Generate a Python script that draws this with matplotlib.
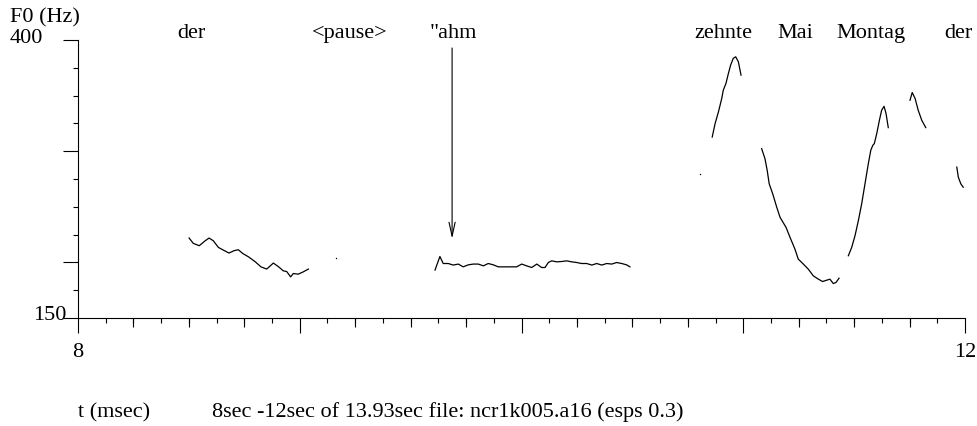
import numpy as np
import matplotlib
matplotlib.use("Agg")
import matplotlib.pyplot as plt
from matplotlib.markers import TICKDOWN

plt.rcParams['font.family'] = ['Liberation Serif', 'DejaVu Serif']
FS = 16

# F0 contour pieces (time in s, F0 in Hz)
der1_t = [8.501, 8.520, 8.547, 8.570, 8.591, 8.610, 8.633, 8.655, 8.681, 8.703,
          8.723, 8.743, 8.768, 8.798, 8.825, 8.851, 8.881, 8.903, 8.926, 8.941,
          8.959, 8.971, 8.993, 9.016, 9.039]
der1_f = [221.9, 217.1, 215.0, 218.9, 221.9, 219.5, 213.5, 211.1, 208.4, 210.5,
          211.4, 208.0, 205.1, 200.8, 196.0, 194.0, 199.4, 196.3, 192.4, 191.8,
          187.0, 190.0, 189.4, 191.5, 194.0]

ahm_t = [9.610, 9.632, 9.647, 9.670, 9.692, 9.715, 9.737, 9.760, 9.783, 9.805,
         9.828, 9.850, 9.873, 9.895, 9.933, 9.978, 10.001, 10.023, 10.046, 10.069,
         10.091, 10.106, 10.121, 10.136, 10.159, 10.181, 10.204, 10.226, 10.249, 10.271,
         10.294, 10.317, 10.339, 10.362, 10.384, 10.407, 10.429, 10.452, 10.474, 10.489]
ahm_f = [193.1, 205.3, 199.0, 199.0, 197.6, 198.5, 196.0, 197.8, 198.5, 198.5,
         196.9, 199.0, 197.8, 196.0, 196.0, 196.0, 198.5, 196.9, 195.4, 198.5,
         195.4, 195.4, 199.9, 201.4, 200.5, 200.8, 201.4, 200.5, 199.9, 199.0,
         199.0, 197.6, 199.0, 197.6, 199.0, 198.5, 199.9, 199.0, 197.8, 196.0]

zehnte_t = [10.860, 10.873, 10.888, 10.903, 10.910, 10.922, 10.933, 10.943, 10.955,
            10.966, 10.978, 10.990]
zehnte_f = [312.7, 324.8, 335.3, 347.4, 354.9, 360.9, 369.9, 377.4, 383.5,
            384.9, 380.4, 368.4]

mai_t = [11.083, 11.098, 11.108, 11.117, 11.133, 11.151, 11.166, 11.193, 11.211, 11.233,
         11.248, 11.271, 11.293, 11.316, 11.339, 11.358, 11.376, 11.391, 11.406, 11.418,
         11.432]
mai_f = [302.3, 293.2, 282.7, 270.7, 261.6, 249.6, 240.5, 231.5, 222.5, 212.0,
         203.0, 198.5, 194.0, 187.9, 184.9, 182.8, 184.0, 184.9, 181.0, 181.9,
         185.8]

montag_t = [11.474, 11.489, 11.504, 11.519, 11.534, 11.549, 11.564, 11.575, 11.584,
            11.591, 11.602, 11.614, 11.624, 11.635, 11.644, 11.654]
montag_f = [206.0, 213.5, 224.0, 237.5, 252.6, 270.7, 288.7, 300.7, 305.2,
            306.8, 315.8, 327.8, 336.8, 340.4, 333.8, 321.2]

der2_t = [11.752, 11.762, 11.775, 11.789, 11.805, 11.823]
der2_f = [345.8, 352.8, 347.4, 336.8, 327.8, 321.2]

tail_t = [11.963, 11.970, 11.981, 11.992]
tail_f = [285.7, 276.6, 270.7, 267.6]

dots_t = [9.162, 10.805]
dots_f = [203.9, 279.1]

words = ['der', '<pause>', '"ahm', 'zehnte', 'Mai', 'Montag', 'der']
word_t = [8.51, 9.227, 9.691, 10.909, 11.233, 11.576, 11.968]

arrow_t = 9.687
arrow_from = 392.8
arrow_to = 221.3

fig = plt.figure(figsize=(9.78, 4.26), dpi=100)
ax = fig.add_axes([78 / 978, 1 - 318 / 426, 887 / 978, 278 / 426])

segments = [(der1_t, der1_f), (ahm_t, ahm_f), (zehnte_t, zehnte_f),
            (mai_t, mai_f), (montag_t, montag_f), (der2_t, der2_f), (tail_t, tail_f)]
for t, f in segments:
    ax.plot(t, f, color='black', lw=0.9)
ax.plot(dots_t, dots_f, 'o', color='black', ms=1.0, mew=0)

ax.set_xlim(8, 12)
ax.set_ylim(150, 400)
for s in ['top', 'right']:
    ax.spines[s].set_visible(False)
for s in ['left', 'bottom']:
    ax.spines[s].set_linewidth(0.8)

ax.set_xticks([8, 9, 10, 11, 12])
ax.set_xticks(np.arange(8, 12, 0.125), minor=True)
ax.set_yticks([150, 200, 300, 400])
ax.set_yticks(np.arange(150, 401, 25), minor=True)
ax.tick_params(which='major', direction='out', length=10.5, width=0.8,
               labelbottom=False, labelleft=False)
ax.tick_params(which='minor', direction='out', length=3.8, width=0.8)

# medium ticks at quarter seconds
quarters = [q for q in np.arange(8.25, 12, 0.25) if q % 1 != 0]
ax.plot(quarters, [150] * len(quarters), ls='none', marker=TICKDOWN,
        ms=6.5, mew=0.8, color='black', clip_on=False)

ax.text(8, 119.3, '8', ha='center', va='center', fontsize=FS)
ax.text(12, 119.3, '12', ha='center', va='center', fontsize=FS)

for w, t in zip(words, word_t):
    ax.text(t, 401.8, w, ha='center', va='baseline', fontsize=FS, clip_on=False)

ax.annotate('', xy=(arrow_t, arrow_to), xytext=(arrow_t, arrow_from),
            arrowprops=dict(arrowstyle='->,head_length=1.0,head_width=0.22',
                            lw=0.8, color='black', shrinkA=0, shrinkB=0,
                            mutation_scale=10))

fig.text(10 / 978, 1 - 22 / 426, 'F0 (Hz)', fontsize=FS, ha='left', va='baseline')
fig.text(43 / 978, 1 - 43 / 426, '400', fontsize=FS, ha='right', va='baseline')
fig.text(66 / 978, 1 - 316 / 426, '150', fontsize=FS, ha='right', va='center')
fig.text(78 / 978, 1 - 417 / 426, 't (msec)', fontsize=FS, ha='left', va='baseline')
fig.text(212 / 978, 1 - 417 / 426,
         '8sec -12sec of 13.93sec file: ncr1k005.a16 (esps 0.3)',
         fontsize=FS, ha='left', va='baseline')

fig.savefig('out.png', dpi=100)
